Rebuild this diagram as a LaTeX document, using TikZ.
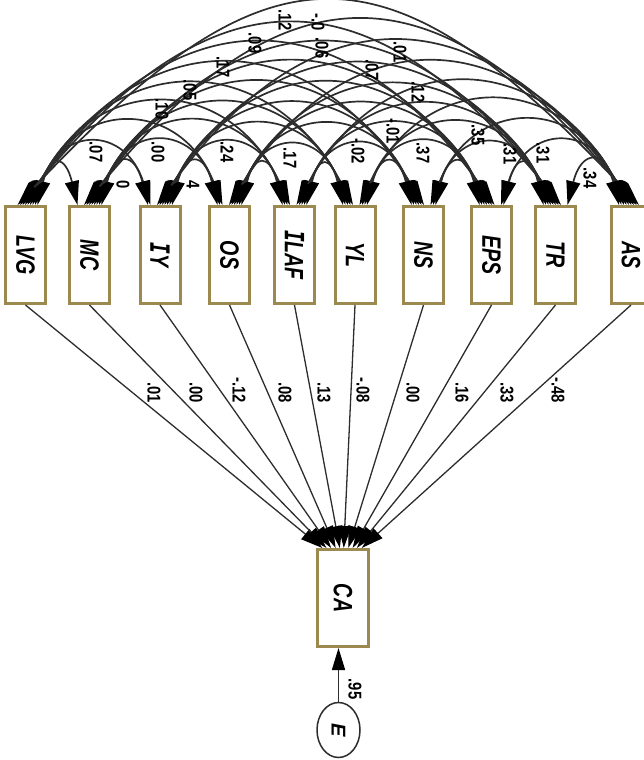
\documentclass[tikz,border=0pt]{standalone}
\usepackage{fontspec}
\setmainfont{Liberation Sans}
\newfontfamily\monof{DejaVu Sans Mono}
\usepackage{graphicx}
\usetikzlibrary{arrows.meta,shapes.geometric,calc}
\definecolor{gold}{RGB}{155,137,80}
\definecolor{ln}{RGB}{45,45,45}
\newcommand{\blbl}[1]{\rotatebox{-90}{\scalebox{0.74}[1]{\fontsize{26.5}{26.5}\selectfont\bfseries\itshape #1}}}
\newcommand{\elbl}[1]{\rotatebox{-90}{\scalebox{0.8}[1]{\fontsize{18.5}{18.5}\selectfont\bfseries #1}}}
\newcommand{\Iser}{{\monof\bfseries\itshape I}}
\begin{document}
\begin{tikzpicture}[x=1pt,y=1pt,
  varbox/.style={draw=gold,line width=3pt,fill=white,minimum width=40pt,minimum height=97pt,inner sep=0pt},
  errnode/.style={draw=ln,ellipse,line width=1.5pt,fill=white,minimum width=43pt,minimum height=55pt,inner sep=0pt},
  lab/.style={inner sep=0pt},
  covarc/.style={draw=ln,line width=1.7pt,{Triangle[length=24pt,width=14pt,color=black]}-{Triangle[length=24pt,width=14pt,color=black]}},
  reg/.style={draw=ln,line width=1.3pt,-{Triangle[length=22pt,width=13pt,color=black]}}
]
\useasboundingbox (0,0) rectangle (644,-760);
\def\boxlist{lvg/25.5,mc/89.5,iy/160,os/229.5,ilaf/294.5,yl/355,ns/423.5,eps/491.5,tr/555.5,as/631}

\node[varbox] (lvg)  at (25.5,-255)  {\blbl{LVG}};
\node[varbox] (mc)   at (89.5,-255)  {\blbl{MC}};
\node[varbox] (iy)   at (160,-255)   {\blbl{\Iser Y}};
\node[varbox] (os)   at (229.5,-255) {\blbl{OS}};
\node[varbox] (ilaf) at (294.5,-255) {\blbl{\Iser LAF}};
\node[varbox] (yl)   at (355,-255)   {\blbl{YL}};
\node[varbox] (ns)   at (423.5,-255) {\blbl{NS}};
\node[varbox] (eps)  at (491.5,-255) {\blbl{EPS}};
\node[varbox] (tr)   at (555.5,-255) {\blbl{TR}};
\node[varbox] (as)   at (631,-255)   {\blbl{AS}};

\node[varbox,minimum width=51pt] (ca) at (343,-598) {\blbl{CA}};
\node[errnode] (e) at (338.5,-730) {\rotatebox{-90}{\fontsize{20}{20}\selectfont\bfseries\itshape E}};

% covariance arcs
\foreach \a/\xa [count=\i] in \boxlist {
  \foreach \b/\xb [count=\j] in \boxlist {
    \ifnum\j>\i
      \pgfmathsetmacro\c{\xb-\xa}
      \pgfmathsetmacro\h{19+0.302*\c}
      \pgfmathsetmacro\d{12-2.5*(\j-\i-1)}
      \pgfmathsetmacro\t{80-0.055*\c}
      \pgfmathsetmacro\tt{180-\t}
      \pgfmathsetmacro\L{4/3*\h/sin(\t)}
      \draw[covarc] ([xshift=\d pt]\a.north) .. controls +(\t:\L) and +(\tt:\L) .. ([xshift=-\d pt]\b.north);
    \fi
  }
}

% regression paths
\foreach \a/\xa in \boxlist {
  \pgfmathsetmacro\o{(\xa-343)*0.065}
  \draw[reg] (\a.south) -- ([xshift=\o pt]ca.north);
}
\draw[reg,line width=1.5pt] (e.north) -- (e.north |- ca.south);

% covariance labels
\node[lab] (c1) at (285,-20) {\elbl{.12}};
\node[lab] (c2) at (318,-22) {\elbl{-.0}};
\node[lab] (c3) at (322,-48) {\elbl{.06}};
\node[lab] (c4) at (255,-43) {\elbl{.09}};
\node[lab] (c5) at (223,-67) {\elbl{.17}};
\node[lab] (c6) at (190,-90) {\elbl{.05}};
\node[lab] (c7) at (162,-109) {\elbl{.10}};
\node[lab] (c8) at (96,-152) {\elbl{.07}};
\node[lab] (c9) at (158,-152) {\elbl{.00}};
\node[lab] (c10) at (227,-152) {\elbl{.24}};
\node[lab] (c11) at (290,-158) {\elbl{.17}};
\node[lab] (c12) at (123,-185) {\elbl{0}};
\node[lab] (c13) at (193,-185) {\elbl{4}};
\node[lab] (c14) at (400,-52) {\elbl{.01}};
\node[lab] (c15) at (372,-70) {\elbl{.07}};
\node[lab] (c16) at (418,-92) {\elbl{.12}};
\node[lab] (c17) at (393,-131) {\elbl{-.01}};
\node[lab] (c18) at (358,-151) {\elbl{-.02}};
\node[lab] (c19) at (423,-153) {\elbl{.37}};
\node[lab] (c20) at (478,-135) {\elbl{.35}};
\node[lab] (c21) at (510,-154) {\elbl{.31}};
\node[lab] (c22) at (543,-153) {\elbl{.31}};
\node[lab] (c23) at (590,-178) {\elbl{.34}};

% regression labels
\node[lab,anchor=south] (r1) at (154,-403) {\elbl{.01}};
\node[lab,anchor=south] (r2) at (196,-403) {\elbl{.00}};
\node[lab,anchor=south] (r3) at (239,-403) {\elbl{-.12}};
\node[lab,anchor=south] (r4) at (285,-403) {\elbl{.08}};
\node[lab,anchor=south] (r5) at (324,-403) {\elbl{.13}};
\node[lab,anchor=south] (r6) at (363,-403) {\elbl{-.08}};
\node[lab,anchor=south] (r7) at (413,-403) {\elbl{.00}};
\node[lab,anchor=south] (r8) at (462,-403) {\elbl{.16}};
\node[lab,anchor=south] (r9) at (507,-403) {\elbl{.33}};
\node[lab,anchor=south] (r10) at (558,-403) {\elbl{-.48}};
\node[lab] (r11) at (355,-689) {\elbl{.95}};
\end{tikzpicture}
\end{document}
